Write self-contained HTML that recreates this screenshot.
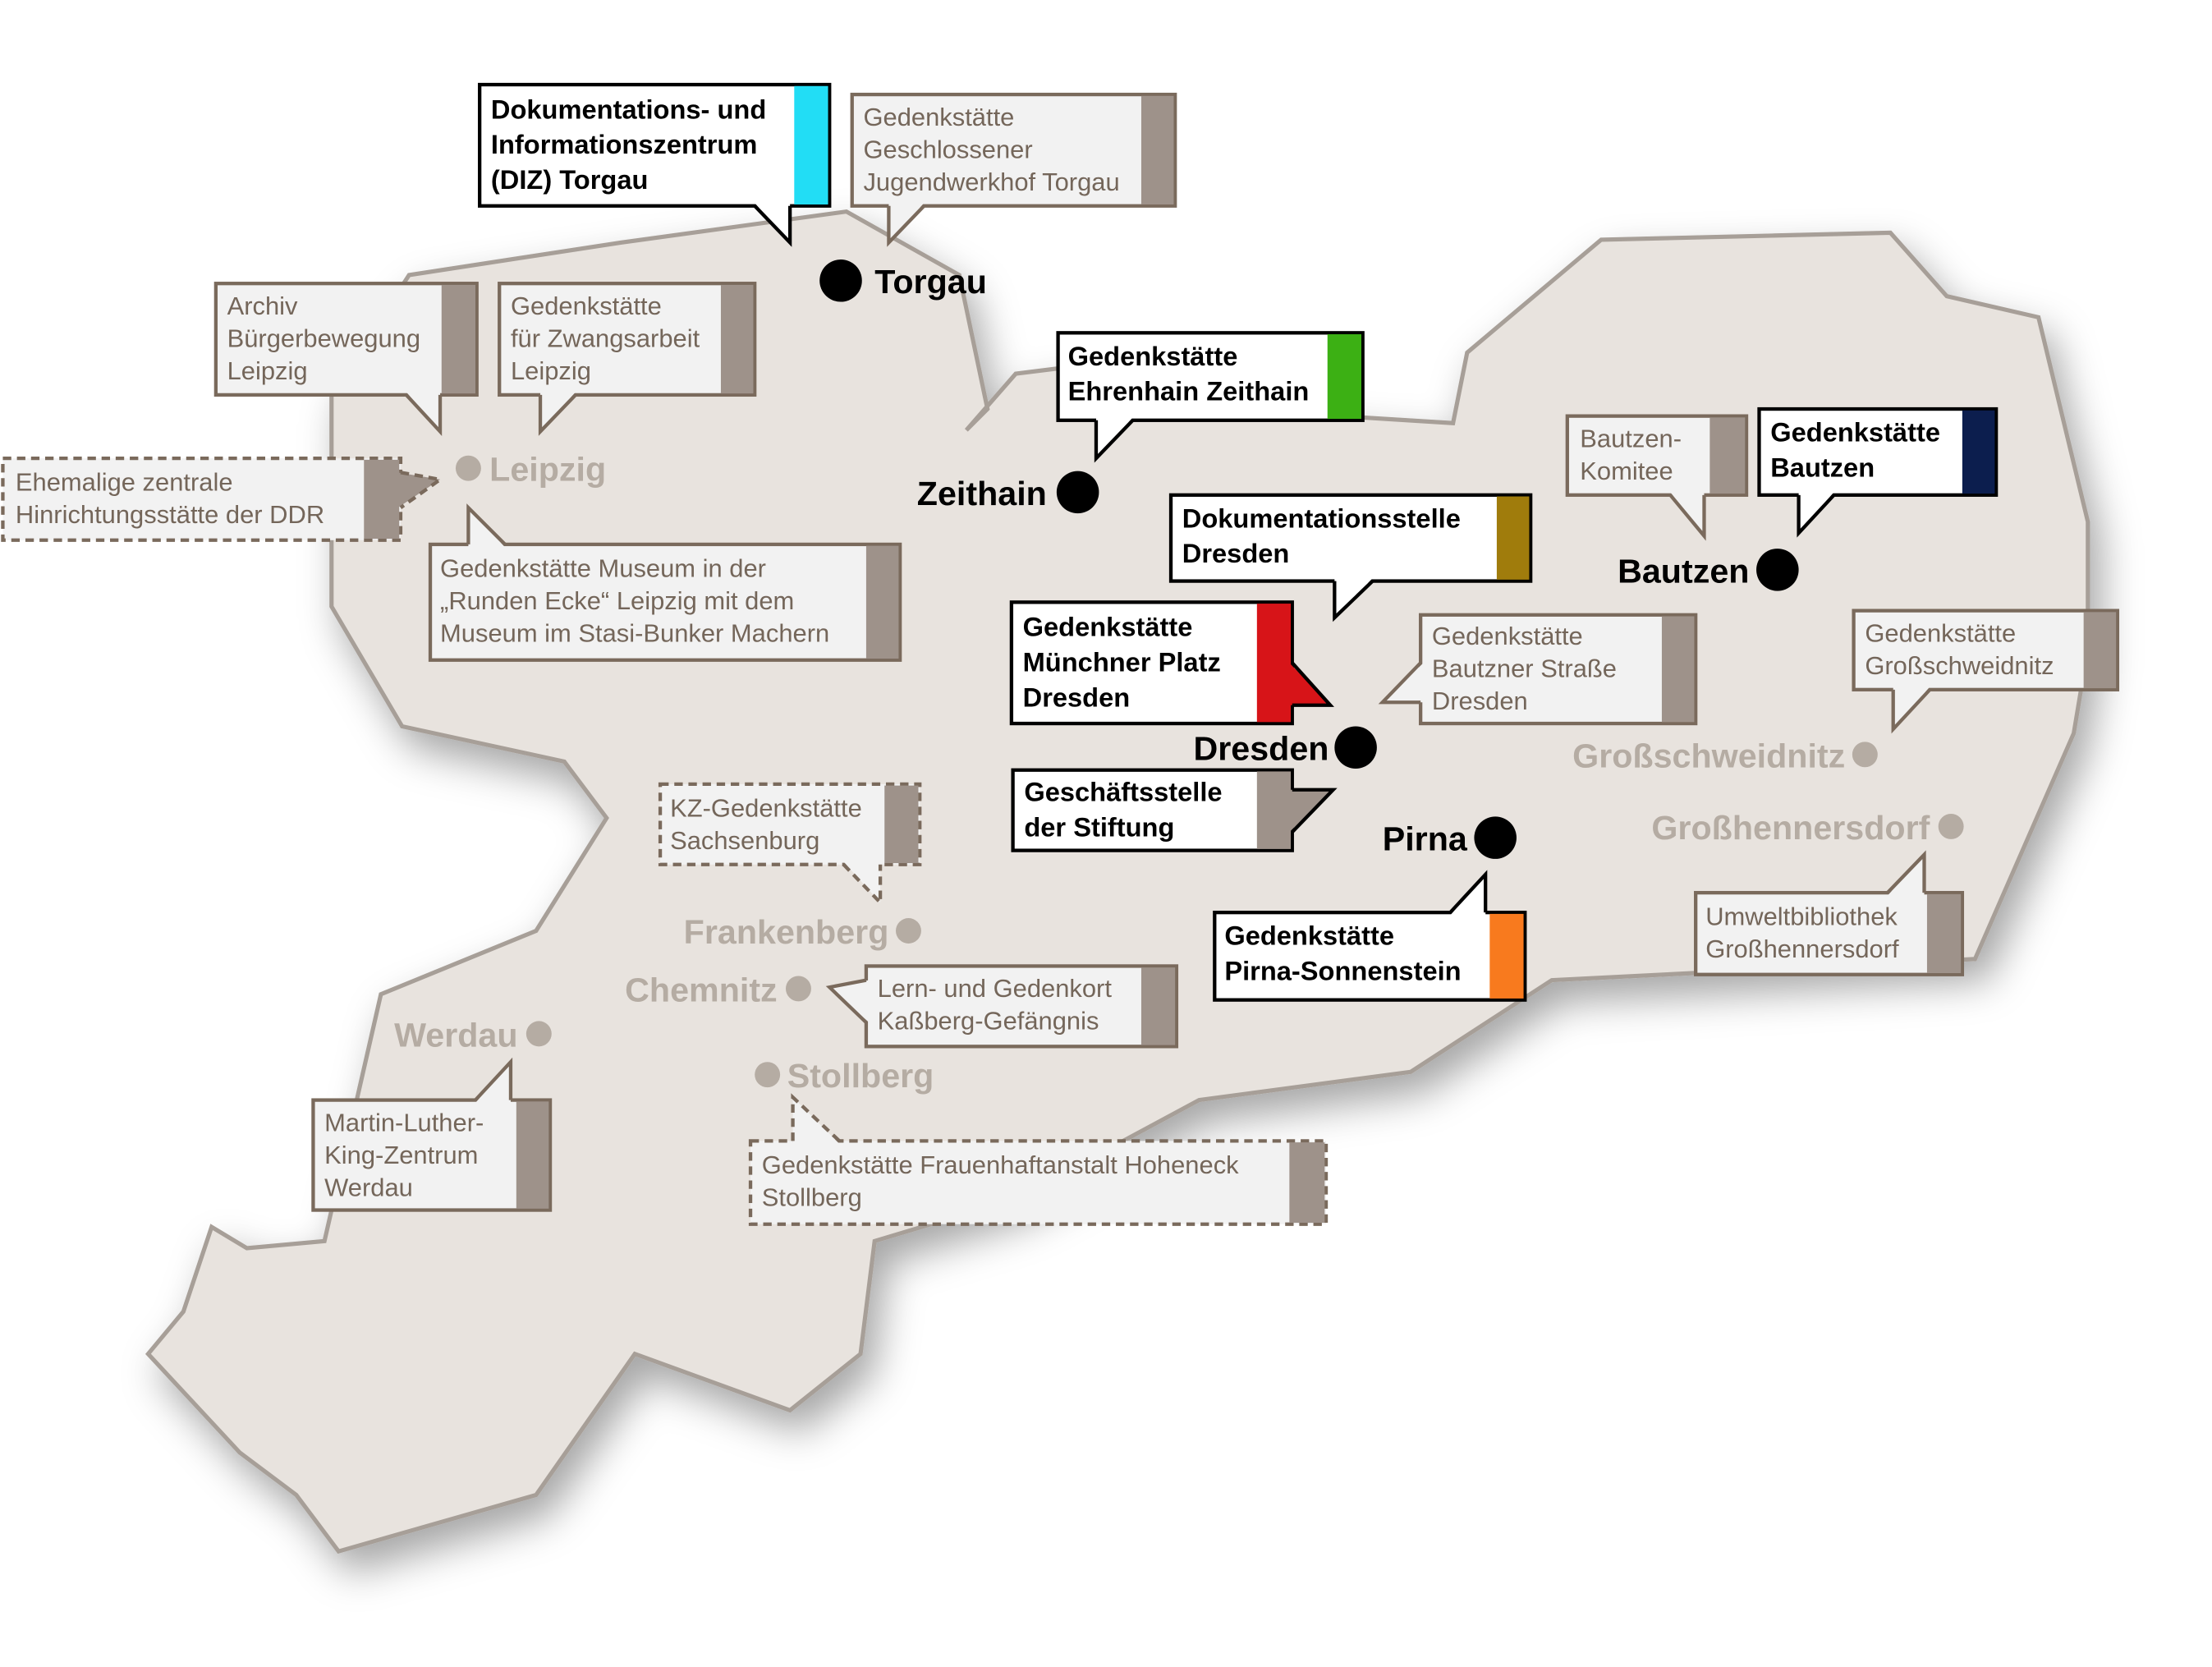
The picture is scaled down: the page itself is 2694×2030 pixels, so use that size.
<!DOCTYPE html>
<html><head><meta charset="utf-8"><style>
html,body{margin:0;padding:0;background:#fff;width:2694px;height:2030px;overflow:hidden}
svg{display:block}
.g{font-family:"Liberation Sans",sans-serif;font-size:18px;fill:#74665a}
.b{font-family:"Liberation Sans",sans-serif;font-size:19px;font-weight:bold;fill:#000}
.cl{font-family:"Liberation Sans",sans-serif;font-size:24px;font-weight:bold;fill:#000}
.gl{font-family:"Liberation Sans",sans-serif;font-size:24px;font-weight:bold;fill:#b5aca3}
.gb{fill:#f2f2f2;stroke:#7a6a5c;stroke-width:2.5}
.gt{fill:none;stroke:#7a6a5c;stroke-width:2.5}
.bb{fill:#fff;stroke:#000;stroke-width:2.5}
.bt{fill:none;stroke:#000;stroke-width:2.5}
.d{stroke-dasharray:6 4}
</style></head><body>
<svg width="2694" height="2030" viewBox="0 0 1568 1182" preserveAspectRatio="none">
<defs><filter id="sh" x="-20%" y="-20%" width="140%" height="140%"><feDropShadow dx="8" dy="14" stdDeviation="14" flood-color="#000" flood-opacity="0.35"/></filter></defs>
<path filter="url(#sh)" fill="#e8e3de" stroke="#a79f98" stroke-width="3" d="M290,195 L440,172 L600,150 L680,195 L700,290 L685,305 L720,265 L760,260 L850,275 L950,295 L1030,300 L1040,250 L1135,170 L1340,165 L1380,210 L1445,225 L1480,370 L1480,460 L1470,520 L1400,680 L1100,695 L1000,760 L850,780 L720,850 L620,880 L610,960 L560,1000 L450,960 L380,1060 L240,1100 L210,1060 L170,1030 L105,960 L130,930 L150,870 L175,885 L230,880 L270,705 L380,660 L430,580 L400,540 L285,515 L235,430 L235,280 Z"/>

<rect class="bb" x="340" y="60" width="248" height="86"/><rect x="563" y="61" width="24" height="84" fill="#22ddf5"/>
<polygon points="535,144 560,144 560,172" fill="#fff"/><polyline class="bt" points="535,146 560,172 560,146"/>
<text class="b" x="348" y="84">Dokumentations- und</text><text class="b" x="348" y="109">Informationszentrum</text><text class="b" x="348" y="134">(DIZ) Torgau</text>

<rect class="gb" x="604" y="67" width="229" height="79"/><rect x="809" y="68" width="23" height="77" fill="#9e928a"/>
<polygon points="630,144 655,144 630,172" fill="#f2f2f2"/><polyline class="gt" points="630,146 630,172 655,146"/>
<text class="g" x="612" y="89">Gedenkstätte</text><text class="g" x="612" y="112">Geschlossener</text><text class="g" x="612" y="135">Jugendwerkhof Torgau</text>

<circle cx="596" cy="199" r="15" fill="#000"/><text class="cl" x="620" y="208">Torgau</text>

<rect class="gb" x="153" y="201" width="185" height="79"/><rect x="313" y="202" width="24" height="77" fill="#9e928a"/>
<polygon points="288,278 312,278 312,306" fill="#f2f2f2"/><polyline class="gt" points="288,280 312,306 312,280"/>
<text class="g" x="161" y="223">Archiv</text><text class="g" x="161" y="246">Bürgerbewegung</text><text class="g" x="161" y="269">Leipzig</text>

<rect class="gb" x="354" y="201" width="181" height="79"/><rect x="511" y="202" width="23" height="77" fill="#9e928a"/>
<polygon points="383,278 408,278 383,306" fill="#f2f2f2"/><polyline class="gt" points="383,280 383,306 408,280"/>
<text class="g" x="362" y="223">Gedenkstätte</text><text class="g" x="362" y="246">für Zwangsarbeit</text><text class="g" x="362" y="269">Leipzig</text>

<rect class="gb d" x="2" y="325" width="282" height="58"/><rect x="258" y="326" width="25" height="56" fill="#9e928a"/>
<polygon points="282,335 282,360 312,340" fill="#9e928a"/><polyline class="gt d" points="284,335 312,340 284,360"/>
<text class="g" x="11" y="348">Ehemalige zentrale</text><text class="g" x="11" y="371">Hinrichtungsstätte der DDR</text>

<circle cx="332" cy="332" r="9" fill="#b5aca3"/><text class="gl" x="347" y="341">Leipzig</text>

<rect class="gb" x="305" y="386" width="333" height="82"/><rect x="614" y="387" width="23" height="80" fill="#9e928a"/>
<polygon points="332,388 358,388 332,360" fill="#f2f2f2"/><polyline class="gt" points="332,386 332,360 358,386"/>
<text class="g" x="312" y="409">Gedenkstätte Museum in der</text><text class="g" x="312" y="432">„Runden Ecke“ Leipzig mit dem</text><text class="g" x="312" y="455">Museum im Stasi-Bunker Machern</text>

<rect class="bb" x="750" y="236" width="216" height="62"/><rect x="941" y="237" width="24" height="60" fill="#3cb014"/>
<polygon points="777,296 803,296 777,325" fill="#fff"/><polyline class="bt" points="777,298 777,325 803,298"/>
<text class="b" x="757" y="259">Gedenkstätte</text><text class="b" x="757" y="284">Ehrenhain Zeithain</text>
<circle cx="764" cy="349" r="15" fill="#000"/><text class="cl" x="742" y="358" text-anchor="end">Zeithain</text>

<rect class="bb" x="830" y="351" width="255" height="61"/><rect x="1061" y="352" width="23" height="59" fill="#a07c0c"/>
<polygon points="946,410 973,410 946,438" fill="#fff"/><polyline class="bt" points="946,412 946,438 973,412"/>
<text class="b" x="838" y="374">Dokumentationsstelle</text><text class="b" x="838" y="399">Dresden</text>

<rect class="bb" x="717" y="427" width="199" height="86"/><rect x="891" y="428" width="24" height="84" fill="#d71418"/>
<polygon points="914,470 914,500 943,500 914,470" fill="#d71418"/><polyline class="bt" points="916,470 943,500 916,500"/>
<text class="b" x="725" y="451">Gedenkstätte</text><text class="b" x="725" y="476">Münchner Platz</text><text class="b" x="725" y="501">Dresden</text>
<circle cx="961" cy="530" r="15" fill="#000"/><text class="cl" x="942" y="539" text-anchor="end">Dresden</text>

<rect class="bb" x="718" y="546" width="198" height="57"/><rect x="891" y="547" width="24" height="55" fill="#9e928a"/>
<polygon points="914,560 945,560 914,590" fill="#9e928a"/><polyline class="bt" points="916,560 945,560 916,590"/>
<text class="b" x="726" y="568">Geschäftsstelle</text><text class="b" x="726" y="593">der Stiftung</text>

<rect class="gb" x="1007" y="436" width="195" height="77"/><rect x="1178" y="437" width="23" height="75" fill="#9e928a"/>
<polygon points="1009,470 1009,498 980,498" fill="#f2f2f2"/><polyline class="gt" points="1007,470 980,498 1007,498"/>
<text class="g" x="1015" y="457">Gedenkstätte</text><text class="g" x="1015" y="480">Bautzner Straße</text><text class="g" x="1015" y="503">Dresden</text>

<rect class="gb" x="1111" y="295" width="127" height="56"/><rect x="1212" y="296" width="25" height="54" fill="#9e928a"/>
<polygon points="1184,349 1208,349 1208,380" fill="#f2f2f2"/><polyline class="gt" points="1184,351 1208,380 1208,351"/>
<text class="g" x="1120" y="317">Bautzen-</text><text class="g" x="1120" y="340">Komitee</text>

<rect class="bb" x="1247" y="290" width="168" height="61"/><rect x="1391" y="291" width="23" height="59" fill="#0c1e4e"/>
<polygon points="1275,349 1300,349 1275,378" fill="#fff"/><polyline class="bt" points="1275,351 1275,378 1300,351"/>
<text class="b" x="1255" y="313">Gedenkstätte</text><text class="b" x="1255" y="338">Bautzen</text>
<circle cx="1260" cy="404" r="15" fill="#000"/><text class="cl" x="1240" y="413" text-anchor="end">Bautzen</text>

<rect class="gb" x="1314" y="433" width="187" height="56"/><rect x="1477" y="434" width="23" height="54" fill="#9e928a"/>
<polygon points="1342,487 1368,487 1342,517" fill="#f2f2f2"/><polyline class="gt" points="1342,489 1342,517 1368,489"/>
<text class="g" x="1322" y="455">Gedenkstätte</text><text class="g" x="1322" y="478">Großschweidnitz</text>
<circle cx="1322" cy="535" r="9" fill="#b5aca3"/><text class="gl" x="1308" y="544" text-anchor="end">Großschweidnitz</text>
<circle cx="1383" cy="586" r="9" fill="#b5aca3"/><text class="gl" x="1368" y="595" text-anchor="end">Großhennersdorf</text>

<rect class="gb" x="1202" y="633" width="189" height="58"/><rect x="1366" y="634" width="24" height="56" fill="#9e928a"/>
<polygon points="1338,635 1364,635 1364,606" fill="#f2f2f2"/><polyline class="gt" points="1338,633 1364,606 1364,633"/>
<text class="g" x="1209" y="656">Umweltbibliothek</text><text class="g" x="1209" y="679">Großhennersdorf</text>

<circle cx="1060" cy="594" r="15" fill="#000"/><text class="cl" x="1040" y="603" text-anchor="end">Pirna</text>
<rect class="bb" x="861" y="647" width="220" height="62"/><rect x="1056" y="648" width="24" height="60" fill="#f87a1e"/>
<polygon points="1028,649 1053,649 1053,620" fill="#fff"/><polyline class="bt" points="1028,647 1053,620 1053,647"/>
<text class="b" x="868" y="670">Gedenkstätte</text><text class="b" x="868" y="695">Pirna-Sonnenstein</text>

<rect class="gb d" x="468" y="556" width="184" height="57"/><rect x="627" y="557" width="24" height="55" fill="#9e928a"/>
<polygon points="598,611 624,611 624,640" fill="#f2f2f2"/><polyline class="gt d" points="598,613 624,640 624,613"/>
<text class="g" x="475" y="579">KZ-Gedenkstätte</text><text class="g" x="475" y="602">Sachsenburg</text>
<circle cx="644" cy="660" r="9" fill="#b5aca3"/><text class="gl" x="630" y="669" text-anchor="end">Frankenberg</text>
<circle cx="566" cy="701" r="9" fill="#b5aca3"/><text class="gl" x="551" y="710" text-anchor="end">Chemnitz</text>

<rect class="gb" x="614" y="685" width="220" height="57"/><rect x="809" y="686" width="24" height="55" fill="#9e928a"/>
<polygon points="616,695 616,725 588,700" fill="#f2f2f2"/><polyline class="gt" points="614,695 588,700 614,725"/>
<text class="g" x="622" y="707">Lern- und Gedenkort</text><text class="g" x="622" y="730">Kaßberg-Gefängnis</text>

<circle cx="382" cy="733" r="9" fill="#b5aca3"/><text class="gl" x="367" y="742" text-anchor="end">Werdau</text>
<rect class="gb" x="222" y="780" width="168" height="78"/><rect x="366" y="781" width="23" height="76" fill="#9e928a"/>
<polygon points="337,782 362,782 362,753" fill="#f2f2f2"/><polyline class="gt" points="337,780 362,753 362,780"/>
<text class="g" x="230" y="802">Martin-Luther-</text><text class="g" x="230" y="825">King-Zentrum</text><text class="g" x="230" y="848">Werdau</text>

<circle cx="544" cy="762" r="9" fill="#b5aca3"/><text class="gl" x="558" y="771">Stollberg</text>
<rect class="gb d" x="532" y="809" width="408" height="59"/><rect x="914" y="810" width="25" height="57" fill="#9e928a"/>
<polygon points="562,811 595,811 562,778" fill="#f2f2f2"/><polyline class="gt d" points="562,809 562,778 595,809"/>
<text class="g" x="540" y="832">Gedenkstätte Frauenhaftanstalt Hoheneck</text><text class="g" x="540" y="855">Stollberg</text>
</svg>
</body></html>
